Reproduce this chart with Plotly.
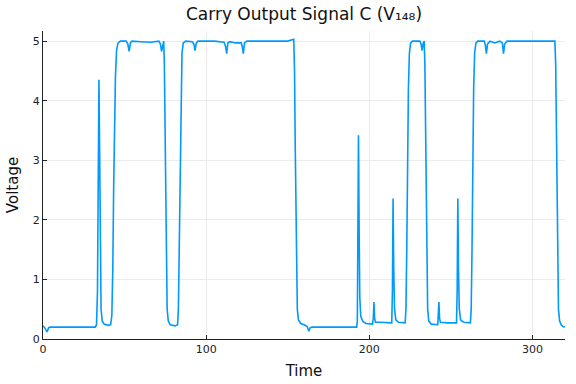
import plotly.graph_objects as go

# Time / voltage samples
time = [
    0, 1, 2.5, 3.5, 4.5, 15, 25, 32,
    32.8, 33.4, 33.9, 34.3, 34.7, 35.1, 35.6, 36.3, 37.5, 40, 41.5,
    42.2, 42.8, 43.3, 43.8, 44.4, 45.1, 46, 47.5, 51, 52, 52.8, 53.6, 54.5, 60, 66, 71, 72, 72.7, 73.4, 74,
    74.4, 74.8, 75.2, 75.6, 76.1, 76.8, 78, 81, 82.5,
    83, 83.5, 84, 84.5, 85.2, 86, 87.5, 91.5, 92.5, 93.2, 94, 95, 105, 111, 112, 112.6, 113.3, 114.5, 118,
    121.5, 122.2, 122.8, 123.5, 125, 140, 150, 153.7,
    154.2, 154.6, 155, 155.4, 155.9, 156.6, 158, 160, 162, 162.9, 163.8, 165, 180, 192.3,
    192.7, 193, 193.4, 193.8, 194.2, 194.8, 196, 198, 202, 202.5, 202.9, 203.3, 203.8, 206, 210, 213.8,
    214.2, 214.6, 215, 215.5, 216.3, 218, 222,
    222.5, 223, 223.5, 224, 224.6, 225.4, 226.5, 231, 231.8, 232.4, 233.1, 233.7,
    234.1, 234.5, 234.9, 235.3, 235.8, 236.5, 238, 242, 242.3, 242.7, 243.1, 243.6, 248, 253.5,
    253.9, 254.3, 254.7, 255.2, 256, 258, 262,
    262.5, 263, 263.5, 264, 264.6, 265.4, 266.5, 270.5, 271.2, 271.8, 272.5, 274, 277, 280, 281.6, 282.3,
    283, 284.5, 295, 305, 313.8,
    314.3, 314.7, 315.1, 315.5, 316, 316.7, 317.8, 318.8, 320,
]
voltage = [
    0.22, 0.19, 0.12, 0.19, 0.2, 0.2, 0.2, 0.2,
    0.24, 0.8, 2.8, 4.35, 3.2, 1.4, 0.5, 0.3, 0.25, 0.23, 0.24,
    0.4, 1.2, 2.5, 3.6, 4.4, 4.85, 4.97, 5.0, 5.0, 4.95, 4.83, 4.97, 5.0, 4.99, 4.98, 5.0, 4.95, 4.83, 4.97, 5.0,
    4.6, 3.4, 2.0, 1.0, 0.5, 0.3, 0.24, 0.22, 0.24,
    0.5, 1.5, 3.0, 4.2, 4.8, 4.97, 5.0, 4.99, 4.95, 4.84, 4.97, 5.0, 5.0, 4.98, 4.9, 4.79, 4.97, 4.99, 4.97,
    4.97, 4.9, 4.79, 4.97, 5.0, 5.0, 5.0, 5.03,
    4.5, 3.3, 2.0, 1.0, 0.5, 0.32, 0.26, 0.24, 0.21, 0.13, 0.19, 0.2, 0.2, 0.2,
    0.3, 1.5, 3.42, 1.8, 0.7, 0.38, 0.3, 0.26, 0.25, 0.35, 0.62, 0.35, 0.28, 0.28, 0.27, 0.27,
    0.8, 2.36, 1.2, 0.5, 0.32, 0.28, 0.27,
    0.5, 1.5, 3.0, 4.2, 4.8, 4.97, 5.0, 5.0, 4.95, 4.84, 4.97, 5.0,
    4.6, 3.4, 2.0, 1.0, 0.5, 0.3, 0.25, 0.24, 0.35, 0.62, 0.35, 0.28, 0.27, 0.27,
    0.8, 2.36, 1.2, 0.5, 0.32, 0.28, 0.27,
    0.5, 1.5, 3.0, 4.2, 4.8, 4.97, 5.0, 5.0, 4.93, 4.79, 4.95, 5.0, 4.97, 5.0, 4.97, 4.79,
    4.95, 5.0, 5.0, 5.0, 5.0,
    4.6, 3.4, 2.0, 1.0, 0.5, 0.3, 0.23, 0.21, 0.2,
]

x_ticks = [0, 100, 200, 300]
y_ticks = [0, 1, 2, 3, 4, 5]

FONT = "DejaVu Sans"
W, H = 576, 384

fig = go.Figure()
fig.add_trace(go.Scatter(
    x=time, y=voltage, mode="lines",
    line=dict(color="#009AFA", width=1.6),
    showlegend=False, hoverinfo="x+y",
))

axis_common = dict(
    showline=True, linecolor="#222222", linewidth=1,
    showgrid=True, gridcolor="#ebebeb", gridwidth=1,
    zeroline=False, ticks="inside", ticklen=4, tickcolor="#222222",
    tickfont=dict(family=FONT, size=11, color="#222222"),
    mirror=False, automargin=False,
)

fig.update_layout(
    width=W, height=H,
    paper_bgcolor="white", plot_bgcolor="white",
    margin=dict(l=43, r=11, t=31, b=45, autoexpand=False),
    font=dict(family=FONT, color="#111111"),
    title=dict(
        text="Carry Output Signal C (V₁₄₈)",
        x=(43 + 565) / 2 / W, xanchor="center",
        y=1 - 14 / H, yanchor="middle",
        font=dict(family=FONT, size=17, color="#111111"),
        automargin=False,
    ),
    xaxis=dict(
        range=[0, 320], tickvals=x_ticks,
        title=dict(text="Time", font=dict(family=FONT, size=15), standoff=10),
        **axis_common,
    ),
    yaxis=dict(
        range=[0, 5.17], tickvals=y_ticks,
        title=dict(text="Voltage", font=dict(family=FONT, size=15), standoff=10),
        **axis_common,
    ),
)

# remove the page's default body margin so the figure sits at the window origin
fig.write_html(
    "out.html",
    config={"displayModeBar": False},
    post_script="document.body.style.margin='0';",
)
